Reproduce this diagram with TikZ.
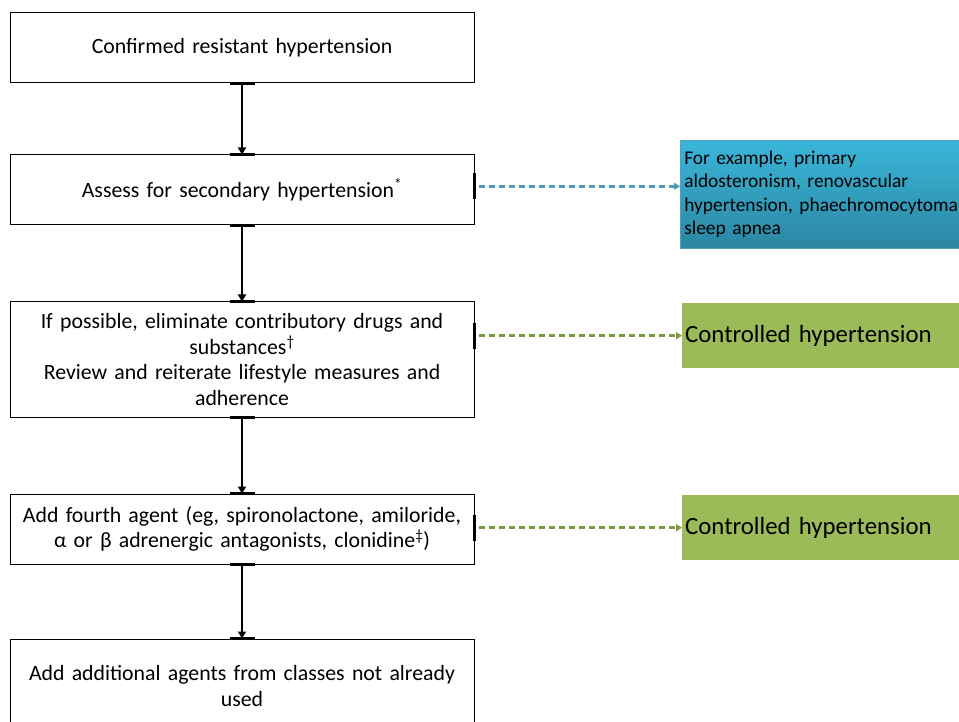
\documentclass[tikz,border=0pt]{standalone}
\usepackage{fontspec}
\setmainfont{Carlito}
\usetikzlibrary{arrows.meta, positioning}
\definecolor{HTblue}{HTML}{3AB6DA}
\definecolor{HTblueD}{HTML}{2B86A1}
\definecolor{HTgreen}{HTML}{9BBB59}
\definecolor{HTarrB}{HTML}{4A9BB5}
\definecolor{HTarrG}{HTML}{7A9A3E}
\tikzset{
  htbox/.style={
    rectangle, draw=black, line width=1pt, fill=white, align=center,
    minimum width=464pt, text width=450pt, inner sep=0pt,
    font=\fontsize{21.8}{25.5}\selectfont},
  htnote/.style={
    rectangle, draw=HTblueD!80, line width=0.6pt, top color=HTblue, bottom color=HTblueD,
    align=left, text width=282pt, inner xsep=4pt, inner ysep=0pt,
    minimum height=108pt, anchor=north west, font=\fontsize{19.4}{23.2}\selectfont},
  htctrl/.style={
    rectangle, fill=HTgreen, align=left, text width=284pt, inner xsep=3pt, inner ysep=0pt,
    minimum height=65pt, anchor=north west, font=\fontsize{24.8}{28}\selectfont},
  htarr/.style={-{Triangle[length=7pt,width=8pt]}, line width=2.4pt, draw=black},
  htbar/.style={line width=3.5pt, draw=black},
  htdashB/.style={-{Triangle[length=6pt,width=7pt]}, line width=2.6pt, draw=HTarrB,
    dash pattern=on 6pt off 4pt},
  htdashG/.style={htdashB, draw=HTarrG},
}
\begin{document}
\begin{tikzpicture}[x=1pt, y=-1pt]
  \useasboundingbox (0,0) rectangle (959,722);
  %% Main column
  \node[htbox, minimum height=70pt] (confirm) at (242,48)
        {Confirmed resistant hypertension};
  \node[htbox, minimum height=70pt, below=71pt of confirm] (assess)
        {Assess for secondary hypertension\textsuperscript{*}};
  \node[htbox, minimum height=115pt, below=76pt of assess] (elim)
        {If possible, eliminate contributory drugs and\\substances\textsuperscript{†}\\
         Review and reiterate lifestyle measures and\\adherence};
  \node[htbox, minimum height=70pt, below=76pt of elim] (fourth)
        {Add fourth agent (eg, spironolactone, amiloride,\\
         α or β adrenergic antagonists, clonidine\textsuperscript{‡})};
  \node[htbox, minimum height=94pt, below=74pt of fourth] (extra)
        {Add additional agents from classes not already\\used};
  %% Side boxes
  \node[htnote] (second) at (680,140)
        {For example, primary\\aldosteronism, renovascular\\
         hypertension, phaechromocytoma,\\sleep apnea};
  \node[htctrl] (ctrlA) at (682,303) {Controlled hypertension};
  \node[htctrl] (ctrlB) at (682,495) {Controlled hypertension};
  %% Arrows down the column
  \foreach \a/\b in {confirm/assess, assess/elim, elim/fourth, fourth/extra} {
    \draw[htarr] (\a) -- (\b);
    \draw[htbar] ([xshift=-12.5pt]\a.south) -- ([xshift=12.5pt]\a.south);
    \draw[htbar] ([xshift=-12.5pt]\b.north) -- ([xshift=12.5pt]\b.north);
  }
  %% Dashed arrows to the side
  \coordinate (sA) at ([yshift=8pt]second.west -| assess.east);
  \coordinate (sB) at (ctrlA.west -| elim.east);
  \coordinate (sC) at (ctrlB.west -| fourth.east);
  \draw[htdashB] ([xshift=4pt]sA) -- ([yshift=8pt]second.west);
  \draw[htdashG] ([xshift=4pt]sB) -- (ctrlA.west);
  \draw[htdashG] ([xshift=4pt]sC) -- (ctrlB.west);
  \foreach \c in {sA, sB, sC}
    \draw[htbar] ([yshift=-13pt]\c) -- ([yshift=13pt]\c);
\end{tikzpicture}
\end{document}
